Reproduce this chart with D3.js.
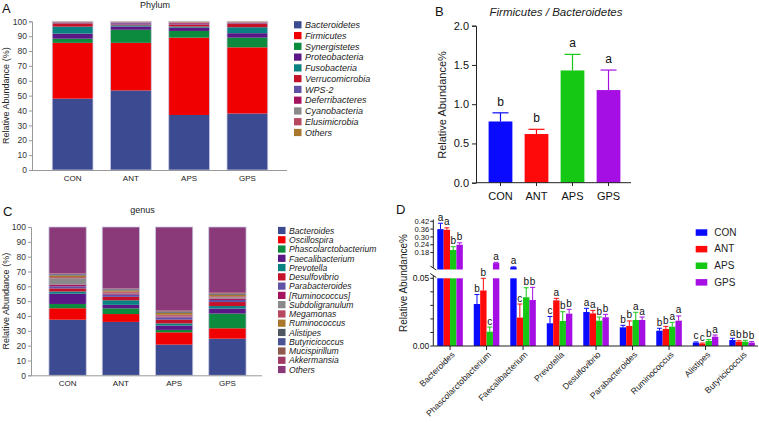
<!DOCTYPE html>
<html><head><meta charset="utf-8">
<script src="https://cdn.jsdelivr.net/npm/d3@7"></script>
<style>body{margin:0;background:#fff}svg{display:block;font-family:"Liberation Sans",Arial,sans-serif}</style>
</head><body><svg id="c" width="759" height="423"></svg>
<script>
// ---------- DATA ----------
const groups = ["CON","ANT","APS","GPS"];
// Panel A (phylum) stacked values per taxon, [CON, ANT, APS, GPS]
const phyla = ["Bacteroidetes","Firmicutes","Synergistetes","Proteobacteria","Fusobacteria","Verrucomicrobia","WPS-2","Deferribacteres","Cyanobacteria","Elusimicrobia","Others"];
const phylumColors = ["#3b4a91","#f00000","#0c8a3e","#5a1785","#0b8282","#c4122b","#5f52a5","#a3135e","#8a8a8a","#b5475e","#a8772c"];
const bacteroidetes = [48, 53.5, 37, 38];
const firmicutes = [37.5, 32, 52, 44.5];
const synergistetes = [2.8, 8.8, 4.5, 6.5];
const proteobacteria = [3.4, 2.2, 2.3, 3];
const fusobacteria = [4.7, 0.8, 0.7, 4];
const verrucomicrobia = [2.2, 0.6, 1.4, 2.3];
const wps2 = [0.3, 0.8, 0.5, 0.3];
const deferribacteres = [0.3, 0.4, 0.6, 0.5];
const cyanobacteria = [0.2, 0.3, 0.2, 0.2];
const elusimicrobia = [0.1, 0.2, 0.2, 0.1];
const phylumOthers = [0.5, 0.4, 0.6, 0.6];
const phylumValues = [bacteroidetes, firmicutes, synergistetes, proteobacteria, fusobacteria, verrucomicrobia, wps2, deferribacteres, cyanobacteria, elusimicrobia, phylumOthers];

// Panel B Firmicutes/Bacteroidetes
const fbRatio = [0.78, 0.62, 1.43, 1.18];
const fbErr = [0.11, 0.06, 0.205, 0.255];
const fbLetters = ["b","b","a","a"];
const groupColors = ["#0a0aff","#ff0a0a","#14c814","#a50fe4"];

// Panel C (genus)
const genera = ["Bacteroides","Oscillospira","Phascolarctobacterium","Faecalibacterium","Prevotella","Desulfovibrio","Parabacteroides","[Ruminococcus]","Subdoligranulum","Megamonas","Ruminococcus","Alistipes","Butyricicoccus","Mucispirillum","Akkermansia","Others"];
const genusColors = ["#3b4a91","#f00000","#0c8a3e","#5a1785","#0b8282","#c4122b","#5f52a5","#a3135e","#8a8a8a","#b5475e","#a8772c","#4f5860","#4a5495","#8e5a4c","#a03a62","#8a3a78"];
const gBacteroides = [37.5, 36, 20.7, 24.7];
const gOscillospira = [7.7, 5.3, 8.3, 7];
const gPhascolarcto = [2.9, 3.9, 1.6, 9.9];
const gFaecali = [6.9, 2.3, 2.9, 3.4];
const gPrevotella = [1.5, 3.1, 1.5, 1.7];
const gDesulfovibrio = [2.1, 2.3, 2.5, 2.7];
const gParabacteroides = [1.4, 1.5, 1.5, 1.4];
const gRuminoBr = [1.2, 0.8, 0.7, 1.0];
const gSubdoli = [4.2, 0.4, 0.4, 0.8];
const gMegamonas = [0.8, 0.8, 0.7, 0.7];
const gRuminococcus = [1.1, 0.9, 1.3, 1.0];
const gAlistipes = [0.4, 0.4, 0.5, 0.5];
const gButyrici = [0.5, 0.4, 0.4, 0.3];
const gMucispirillum = [0.3, 0.3, 0.4, 0.4];
const gAkkermansia = [0.3, 0.3, 0.4, 0.5];
const gOthers = [31.2, 41.3, 56.2, 44];
const genusValues = [gBacteroides,gOscillospira,gPhascolarcto,gFaecali,gPrevotella,gDesulfovibrio,gParabacteroides,gRuminoBr,gSubdoli,gMegamonas,gRuminococcus,gAlistipes,gButyrici,gMucispirillum,gAkkermansia,gOthers];

// Panel D
const dGenera = ["Bacteroides","Phascolarctobacterium","Faecalibacterium","Prevotella","Desulfovibrio","Parabacteroides","Ruminococcus","Alistipes","Butyricicoccus"];
const dCON = [0.36, 0.031, 0.068, 0.0168, 0.0251, 0.0138, 0.0113, 0.0025, 0.0044];
const dANT = [0.355, 0.041, 0.021, 0.0337, 0.0241, 0.0148, 0.0126, 0.0017, 0.0032];
const dAPS = [0.20, 0.0106, 0.036, 0.0185, 0.0187, 0.0192, 0.0143, 0.0037, 0.0032];
const dGPS = [0.24, 0.099, 0.034, 0.0239, 0.0212, 0.0192, 0.0187, 0.0069, 0.0025];
const eCON = [0.045, 0.007, 0.002, 0.005, 0.0027, 0.0015, 0.0018, 0.0005, 0.0013];
const eANT = [0.015, 0.009, 0.010, 0.0015, 0.0022, 0.0037, 0.0019, 0.0005, 0.0007];
const eAPS = [0.025, 0.0034, 0.007, 0.0068, 0.0027, 0.0057, 0.0032, 0.001, 0.001];
const eGPS = [0.015, 0.006, 0.0093, 0.0032, 0.0022, 0.0022, 0.0035, 0.0012, 0.0007];
const lCON = ["a","b","a","c","a","b","b","c","a"];
const lANT = ["a","b","c","a","a","b","b","c","b"];
const lAPS = ["b","c","b","b","b","a","a","b","b"];
const lGPS = ["b","a","b","b","b","a","a","a","b"];
const dValues = [dCON, dANT, dAPS, dGPS];
const dErrors = [eCON, eANT, eAPS, eGPS];
const dLetters = [lCON, lANT, lAPS, lGPS];
const dBottomTicks = [0, 0.01, 0.02, 0.03, 0.04, 0.05];
const dTopTicks = [0.18, 0.24, 0.30, 0.36, 0.42];

// ---------- DRAW ----------
const svg = d3.select("#c");
const FONT = '"Liberation Sans",Arial,sans-serif';

function panelLetter(t, x, y){
  svg.append("text").attr("x",x).attr("y",y).attr("font-size",13).attr("fill","#111").text(t);
}

function stacked(opts){
  const {values, colors, names, y0px, y100px, xr, title, titleY, legendX, legendY, legendStep, yTitleX} = opts;
  const g = svg.append("g");
  const x = d3.scaleBand().domain(groups).range(xr.range).paddingInner(0.3).paddingOuter(xr.po);
  const y = d3.scaleLinear().domain([0,100]).range([y0px, y100px]);
  groups.forEach((grp, gi) => {
    let cum = 0;
    values.forEach((arr, ti) => {
      const v = arr[gi];
      g.append("rect").attr("x", x(grp)).attr("width", x.bandwidth())
        .attr("y", y(Math.min(100,cum+v))).attr("height", y(cum) - y(Math.min(100,cum+v)))
        .attr("fill", colors[ti]);
      cum += v;
    });
    g.append("rect").attr("x", x(grp)).attr("width", x.bandwidth())
      .attr("y", y(100)).attr("height", y(0)-y(100))
      .attr("fill","none").attr("stroke","#c9c9e0").attr("stroke-width",0.8);
  });
  const ya = g.append("g").attr("transform",`translate(${xr.range[0]-1},0)`)
    .call(d3.axisLeft(y).tickValues(d3.range(0,101,10)).tickSize(3).tickPadding(2));
  ya.select(".domain").attr("stroke","#999");
  ya.selectAll(".tick line").attr("stroke","#999");
  ya.selectAll("text").attr("font-size",8.5).attr("fill","#333").attr("font-family",FONT);
  g.append("line").attr("x1",xr.range[0]-1).attr("x2",xr.axisEnd).attr("y1",y0px+0.5).attr("y2",y0px+0.5).attr("stroke","#999");
  groups.forEach(grp => {
    g.append("text").attr("x", x(grp)+x.bandwidth()/2).attr("y", y0px+11)
      .attr("text-anchor","middle").attr("font-size",8).attr("fill","#222").text(grp);
  });
  g.append("text").attr("x", x(groups[1]) + (x(groups[2])+x.bandwidth()-x(groups[1]))/2 - 5).attr("y", titleY)
    .attr("text-anchor","middle").attr("font-size",9).attr("fill","#222").text(title);
  g.append("text").attr("transform",`translate(${yTitleX},${(y0px+y100px)/2}) rotate(-90)`)
    .attr("text-anchor","middle").attr("font-size",9).attr("fill","#222").text("Relative Abundance (%)");
  names.forEach((n,i)=>{
    const ly = legendY + i*legendStep;
    g.append("rect").attr("x",legendX).attr("y",ly-3.8).attr("width",7.5).attr("height",7.2).attr("fill",colors[i]);
    g.append("text").attr("x",legendX+11).attr("y",ly+3).attr("font-size",opts.legendFont).attr("font-style","italic").attr("fill","#222").text(n);
  });
}

// Panel A
stacked({values: phylumValues, colors: phylumColors, names: phyla, y0px:170, y100px:21.3,
  xr:{range:[33,287], po:0.33, axisEnd:287}, title:"Phylum", titleY:8, legendX:294, legendY:25, legendStep:10.77, legendFont:9, yTitleX:9});
panelLetter("A", 2, 13);

// Panel C
stacked({values: genusValues, colors: genusColors, names: genera, y0px:375.3, y100px:227,
  xr:{range:[32,263], po:0.318, axisEnd:262}, title:"genus", titleY:213, legendX:278, legendY:230.7, legendStep:9.27, legendFont:8.6, yTitleX:9});
panelLetter("C", 3, 216);

// Panel B
(function(){
  const g = svg.append("g");
  const x = d3.scaleBand().domain(groups).range([476,633]).paddingInner(0.34).paddingOuter(0.35);
  const y = d3.scaleLinear().domain([0,2]).range([182.7,25.7]);
  groups.forEach((grp,i)=>{
    const cx = x(grp)+x.bandwidth()/2;
    g.append("rect").attr("x",x(grp)).attr("width",x.bandwidth()).attr("y",y(fbRatio[i])).attr("height",y(0)-y(fbRatio[i])).attr("fill",groupColors[i]);
    const top = y(fbRatio[i]+fbErr[i]);
    g.append("line").attr("x1",cx).attr("x2",cx).attr("y1",y(fbRatio[i])).attr("y2",top).attr("stroke",groupColors[i]).attr("stroke-width",1.2);
    g.append("line").attr("x1",cx-8).attr("x2",cx+8).attr("y1",top).attr("y2",top).attr("stroke",groupColors[i]).attr("stroke-width",1.2);
    g.append("text").attr("x",cx).attr("y",top-7).attr("text-anchor","middle").attr("font-size",12).attr("fill","#111").text(fbLetters[i]);
    g.append("text").attr("x",cx).attr("y",200).attr("text-anchor","middle").attr("font-size",11).attr("fill","#111").text(grp);
  });
  const ya = g.append("g").attr("transform","translate(476,0)").call(d3.axisLeft(y).tickValues([0,0.5,1,1.5,2]).tickFormat(d3.format(".1f")).tickSize(4).tickPadding(3));
  ya.selectAll("text").attr("font-size",11).attr("fill","#111").attr("font-family",FONT);
  ya.select(".domain").attr("stroke","#222");
  ya.selectAll(".tick line").attr("stroke","#222");
  g.append("line").attr("x1",476).attr("x2",631).attr("y1",182.7).attr("y2",182.7).attr("stroke","#222");
  groups.forEach(grp=>{
    const cx = x(grp)+x.bandwidth()/2;
    g.append("line").attr("x1",cx).attr("x2",cx).attr("y1",182.7).attr("y2",186).attr("stroke","#222");
  });
  g.append("text").attr("x",556).attr("y",16).attr("text-anchor","middle").attr("font-size",11.5).attr("font-style","italic").attr("fill","#222").text("Firmicutes / Bacteroidetes");
  g.append("text").attr("transform","translate(446,105) rotate(-90)").attr("text-anchor","middle").attr("font-size",11).attr("fill","#222").text("Relative Abundance%");
})();
panelLetter("B", 435, 16);

// Panel D
(function(){
  const g = svg.append("g");
  const x0 = d3.scaleBand().domain(dGenera).range([431.8,760.3]).paddingInner(0.3).paddingOuter(0.15);
  const x1 = d3.scaleBand().domain(groups).range([0, x0.bandwidth()]);
  const yB = d3.scaleLinear().domain([0,0.05]).range([346,278.3]);
  const yT = d3.scaleLinear().domain([0.05,0.42]).range([269.5,221.3]);
  const axX = 433.3;
  dGenera.forEach((gen, gi)=>{
    groups.forEach((grp, k)=>{
      const v = dValues[k][gi], e = dErrors[k][gi];
      const bx = x0(gen)+x1(grp), bw = x1.bandwidth(), cx = bx+bw/2, col = groupColors[k];
      let errTopPx;
      if (v > 0.05){
        g.append("rect").attr("x",bx).attr("width",bw).attr("y",yB(0.05)).attr("height",yB(0)-yB(0.05)).attr("fill",col);
        g.append("rect").attr("x",bx).attr("width",bw).attr("y",yT(v)).attr("height",yT(0.05)-yT(v)).attr("fill",col);
        errTopPx = yT(v+e);
        g.append("line").attr("x1",cx).attr("x2",cx).attr("y1",yT(v)).attr("y2",errTopPx).attr("stroke",col).attr("stroke-width",1);
      } else {
        g.append("rect").attr("x",bx).attr("width",bw).attr("y",yB(v)).attr("height",yB(0)-yB(v)).attr("fill",col);
        errTopPx = yB(Math.min(v+e,0.0505));
        g.append("line").attr("x1",cx).attr("x2",cx).attr("y1",yB(v)).attr("y2",errTopPx).attr("stroke",col).attr("stroke-width",1);
      }
      g.append("line").attr("x1",cx-2.5).attr("x2",cx+2.5).attr("y1",errTopPx).attr("y2",errTopPx).attr("stroke",col).attr("stroke-width",1);
      g.append("text").attr("x",cx).attr("y",errTopPx-2.5).attr("text-anchor","middle").attr("font-size",10).attr("fill","#111").text(dLetters[k][gi]);
    });
    const c = x0(gen)+x0.bandwidth()/2;
    g.append("line").attr("x1",c).attr("x2",c).attr("y1",346).attr("y2",350).attr("stroke","#222");
    g.append("text").attr("transform",`translate(${c+3},${353}) rotate(-45)`).attr("text-anchor","end").attr("dy","0.35em")
      .attr("font-size",8.6).attr("fill","#222").text(gen);
  });
  g.append("line").attr("x1",axX).attr("x2",758).attr("y1",346).attr("y2",346).attr("stroke","#222");
  g.append("line").attr("x1",axX).attr("x2",axX).attr("y1",275.5).attr("y2",346).attr("stroke","#222");
  g.append("line").attr("x1",axX).attr("x2",axX).attr("y1",219.5).attr("y2",268).attr("stroke","#222");
  g.append("line").attr("x1",axX-3).attr("x2",axX+3).attr("y1",266).attr("y2",270).attr("stroke","#222");
  g.append("line").attr("x1",axX-3).attr("x2",axX+3).attr("y1",273.5).attr("y2",277.5).attr("stroke","#222");
  dBottomTicks.forEach(t=>{
    g.append("line").attr("x1",axX-3).attr("x2",axX).attr("y1",yB(t)).attr("y2",yB(t)).attr("stroke","#222");
  });
  [0,0.05].forEach(t=>{
    g.append("text").attr("x",axX-4).attr("y",yB(t)).attr("dy","0.35em").attr("text-anchor","end").attr("font-size",8.5).attr("fill","#111").text(d3.format(".2f")(t));
  });
  dTopTicks.forEach(t=>{
    g.append("line").attr("x1",axX-3).attr("x2",axX).attr("y1",yT(t)).attr("y2",yT(t)).attr("stroke","#222");
    g.append("text").attr("x",axX-4).attr("y",yT(t)).attr("dy","0.35em").attr("text-anchor","end").attr("font-size",7.6).attr("fill","#111").text(d3.format(".2f")(t));
  });
  g.append("text").attr("transform","translate(407,283) rotate(-90)").attr("text-anchor","middle").attr("font-size",10).attr("fill","#222").text("Relative Abundance%");
  groups.forEach((grp,i)=>{
    const ly = 232.3 + i*16.6;
    g.append("rect").attr("x",695.7).attr("y",ly-3).attr("width",11.6).attr("height",6.5).attr("fill",groupColors[i]);
    g.append("text").attr("x",714.3).attr("y",ly).attr("dy","0.35em").attr("font-size",10).attr("fill","#222").text(grp);
  });
})();
panelLetter("D", 396, 214);
</script></body></html>
